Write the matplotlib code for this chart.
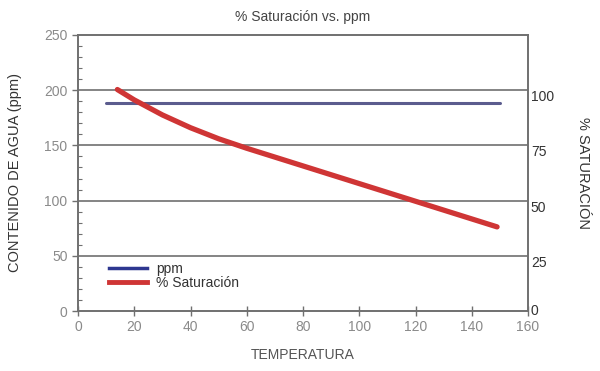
import matplotlib.pyplot as plt
from matplotlib.lines import Line2D
from matplotlib.ticker import MultipleLocator

plt.rcParams['font.family'] = ['Liberation Sans', 'DejaVu Sans']

# datos
temp_ppm = [10, 150]
ppm = [188, 188]

temp_sat = [14, 20, 30, 40, 50, 60, 70, 80, 90, 100, 110, 120, 130, 140, 149]
saturacion = [100.3, 95.6, 88.8, 83.0, 78.0, 73.7, 69.7, 65.7, 61.7, 57.7, 53.7, 49.7, 45.7, 41.7, 38.1]

x_ticks = [0, 20, 40, 60, 80, 100, 120, 140, 160]
ppm_ticks = [0, 50, 100, 150, 200, 250]
sat_ticks = [0, 25, 50, 75, 100]

gris = '#707070'
fig = plt.figure(figsize=(6, 3.71), dpi=100)
ax = fig.add_axes([0.13, 0.1617, 0.75, 0.744])
ax2 = ax.twinx()

ax.set_xlim(0, 160)
ax.set_ylim(0, 250)
ax2.set_ylim(0, 125)

for y in ppm_ticks[1:-1]:
    ax.axhline(y, color=gris, lw=1.2, zorder=1)

ax.plot(temp_ppm, ppm, color='#5b5c8e', lw=2.2, solid_capstyle='round', zorder=3)
ax2.plot(temp_sat, saturacion, color='#cf3535', lw=3.8, solid_capstyle='round',
         solid_joinstyle='round', zorder=3)

ax.set_xticks(x_ticks)
ax.set_yticks(ppm_ticks)
ax.yaxis.set_minor_locator(MultipleLocator(10))
ax.tick_params(axis='x', direction='inout', length=7, width=1, color=gris, labelcolor='#8a8a8a', labelsize=10, pad=3)
ax.tick_params(axis='y', which='major', direction='out', length=4, width=1, color=gris, labelcolor='#8a8a8a', labelsize=10)
ax.tick_params(axis='y', which='minor', direction='in', length=3, width=0.8, color=gris)

ax2.set_yticks(sat_ticks)
ax2.tick_params(axis='y', length=0, pad=2, labelcolor='#333333', labelsize=10)
for lbl in ax2.get_yticklabels():
    lbl.set_va('top')
ax2.get_yticklabels()[0].set_va('center')

for a in (ax, ax2):
    for s in a.spines.values():
        s.set_color(gris)
        s.set_linewidth(1.2)

ax.set_xlabel('TEMPERATURA', color='#555555', fontsize=10, labelpad=10)
ax.set_ylabel('CONTENIDO DE AGUA (ppm)', color='#333333', fontsize=10.5, labelpad=16)
ax2.set_ylabel('% SATURACIÓN', color='#333333', fontsize=10.5, rotation=270, labelpad=26)
ax.set_title('% Saturación vs. ppm', color='#444444', fontsize=10, pad=10)

handles = [Line2D([], [], color='#2e3790', lw=2.5),
           Line2D([], [], color='#cf3535', lw=3.5)]
ax.legend(handles, ['ppm', '% Saturación'], loc='lower left', bbox_to_anchor=(0.04, 0.03),
          frameon=False, fontsize=10, handlelength=2.8, handletextpad=0.6, labelspacing=0.0,
          labelcolor='#333333')

fig.savefig('out.png', dpi=100)
